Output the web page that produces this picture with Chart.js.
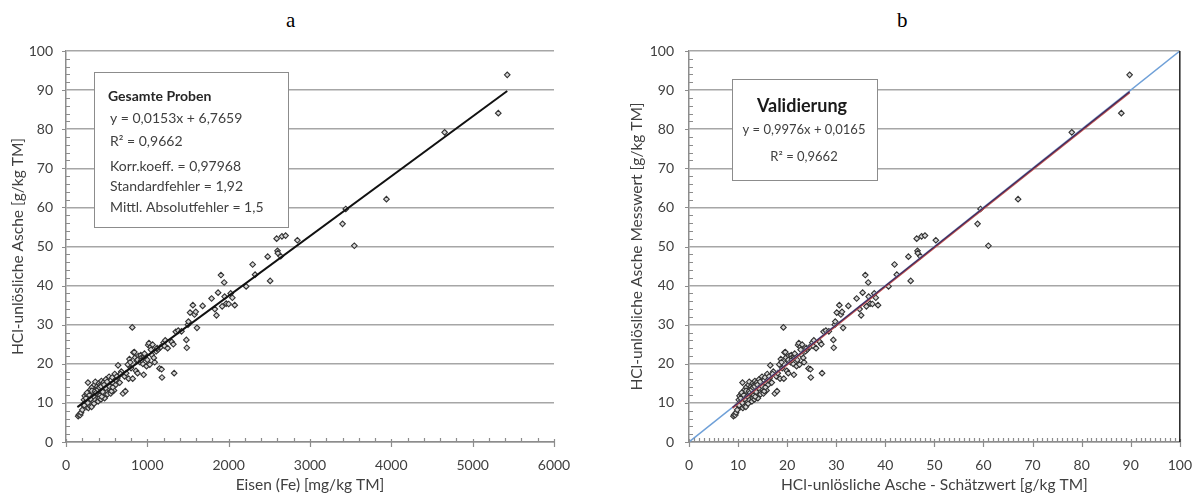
<!DOCTYPE html>
<html>
<head>
<meta charset="utf-8">
<script src="https://cdn.jsdelivr.net/npm/chart.js@4"></script>
<style>
  body { margin: 0; background: #fff; width: 1199px; height: 498px; overflow: hidden; position: relative; }
  .panel { position: absolute; top: 0; height: 498px; }
  .lbl { position: absolute; top: 8px; font-family: "Liberation Serif", serif; font-size: 21px; color: #000; }
</style>
</head>
<body>
<div class="lbl" style="left:286px">a</div>
<div class="lbl" style="left:897px">b</div>
<div class="panel" style="left:0;width:600px"><canvas id="chartA" width="600" height="498"></canvas></div>
<div class="panel" style="left:600px;width:599px"><canvas id="chartB" width="599" height="498"></canvas></div>
<script>
const feValues = [
  150, 160, 175, 185, 200, 210, 220, 230, 240, 250, 255, 265, 270, 275, 280, 285, 290, 295, 300, 305,
  310, 315, 320, 325, 330, 335, 340, 345, 350, 355, 360, 365, 370, 375, 380, 385, 390, 395, 400, 405,
  410, 415, 420, 425, 430, 435, 440, 445, 450, 455, 460, 465, 470, 475, 480, 485, 490, 495, 500, 510,
  520, 530, 540, 550, 560, 570, 580, 590, 600, 610, 620, 630, 640, 650, 660, 680, 700, 720, 730, 740,
  760, 770, 780, 790, 800, 815, 820, 830, 840, 850, 860, 870, 880, 890, 900, 910, 920, 930, 945, 955,
  960, 975, 990, 1000, 1010, 1020, 1030, 1040, 1055, 1065, 1080, 1090, 1110, 1130, 1150, 1160, 1175, 1180, 1200, 1210,
  1220, 1250, 1300, 1320, 1330, 1350, 1380, 1420, 1480, 1485, 1500, 1505, 1525, 1560, 1580, 1595, 1610, 1680, 1790, 1830,
  1850, 1870, 1905, 1920, 1945, 1950, 1970, 2000, 2025, 2045, 2075, 2215, 2295, 2325, 2480, 2510, 2590, 2600, 2605, 2640,
  2655, 2700, 2845, 3400, 3440, 3545, 3940, 4655, 5315, 5425,
  260, 345, 380, 420, 470, 520, 560, 610, 440, 330,
  225, 245, 268, 288, 302, 318, 338, 358, 372, 392, 412, 432, 452, 468, 488, 505, 535, 575, 625, 670,
  880, 925, 965, 1045, 1120
];
const ashValues = [
  6.6, 7.0, 6.9, 7.5, 8.2, 9.5, 10.8, 11.8, 10.2, 9.0, 12.2, 11.0, 15.2, 8.7, 10.5, 12.8, 9.3, 11.6, 13.4, 10.0,
  12.0, 9.0, 14.0, 11.2, 10.6, 13.0, 12.4, 9.8, 14.6, 11.8, 15.4, 12.9, 10.9, 13.6, 11.5, 14.2, 12.2, 10.4, 13.8, 15.0,
  11.2, 12.7, 14.6, 13.2, 10.9, 15.6, 12.0, 13.9, 14.8, 11.7, 12.9, 15.3, 13.4, 11.2, 14.1, 12.4, 16.0, 13.0, 14.5, 12.2,
  15.1, 16.7, 13.6, 12.4, 14.8, 16.5, 15.0, 13.2, 17.4, 14.6, 15.8, 16.3, 19.6, 17.0, 15.2, 18.0, 12.4, 16.8, 13.0, 17.6,
  19.8, 16.2, 21.2, 20.4, 18.9, 29.3, 16.2, 22.9, 23.0, 21.6, 18.2, 20.8, 17.6, 22.0, 21.3, 20.4, 22.2, 21.6, 20.0, 17.2,
  21.9, 22.1, 19.4, 21.0, 24.8, 25.3, 19.8, 24.3, 22.3, 24.9, 21.5, 20.4, 23.2, 23.6, 18.8, 24.2, 18.6, 16.5, 25.4, 24.6,
  26.0, 24.0, 25.6, 25.0, 17.6, 28.2, 28.5, 28.3, 26.1, 24.1, 30.0, 30.8, 33.1, 35.0, 32.6, 33.3, 29.2, 34.8, 36.7, 34.0,
  32.4, 38.2, 42.7, 34.7, 40.8, 37.2, 35.4, 35.3, 38.0, 36.9, 35.0, 39.8, 45.4, 42.8, 47.4, 41.2, 52.0, 48.9, 48.3, 47.5,
  52.6, 52.8, 51.6, 55.8, 59.6, 50.2, 62.1, 79.2, 84.1, 93.9,
  12.6, 11.0, 13.2, 12.0, 14.0, 13.8, 13.0, 15.9, 11.6, 12.5,
  9.4, 11.2, 10.0, 12.0, 11.0, 13.1, 11.7, 13.0, 12.6, 13.4, 13.9, 14.2, 12.8, 14.6, 13.8, 15.4, 14.2, 14.0, 16.8, 17.4,
  21.0, 20.9, 22.6, 23.6, 24.0
];

// regression shown in panel a, used for the estimate in panel b
const slopeA = 0.0153;
const interceptA = 6.7659;
// regression shown in panel b
const slopeB = 0.9976;
const interceptB = 0.0165;

const boxA = ["Gesamte Proben", "y = 0,0153x + 6,7659", "R² = 0,9662", "Korr.koeff. = 0,97968", "Standardfehler = 1,92", "Mittl. Absolutfehler = 1,5"];
const boxB = ["Validierung", "y = 0,9976x + 0,0165", "R² = 0,9662"];

const FONT = "Lato, 'Open Sans', sans-serif";
const TXT = "#404040";
const GRID = "#a6a6a6";

const pointsA = feValues.map((fe, i) => ({ x: fe, y: ashValues[i] }));
const estValues = feValues.map((fe) => slopeA * fe + interceptA);
const pointsB = estValues.map((est, i) => ({ x: est, y: ashValues[i] }));

const feMin = Math.min(...feValues) - 10;
const feMax = Math.max(...feValues);
const estMin = Math.min(...estValues) - 0.2;
const estMax = Math.max(...estValues);

const scatterStyle = {
  type: "scatter",
  pointStyle: "rectRot",
  pointRadius: 2.8,
  pointBorderWidth: 1.1,
  pointBorderColor: "#333",
  pointBackgroundColor: "#d6d6d6"
};

// minor/major tick marks along both axes
function tickPlugin(xMinor, xMajor, xMax, yMinor) {
  return {
    id: "ticks",
    afterDatasetsDraw(chart) {
      const ctx = chart.ctx;
      const xs = chart.scales.x, ys = chart.scales.y;
      const area = chart.chartArea;
      ctx.save();
      ctx.strokeStyle = "#8c8c8c";
      ctx.lineWidth = 1.2;
      ctx.beginPath();
      for (let v = 0; v <= 100 + 1e-9; v += yMinor) {
        const py = Math.round(ys.getPixelForValue(v)) + 0.5;
        if (Math.abs(v % 10) < 1e-6) {
          ctx.moveTo(area.left - 4, py); ctx.lineTo(area.left, py);
        } else {
          ctx.moveTo(area.left, py); ctx.lineTo(area.left + 4, py);
        }
      }
      for (let v = 0; v <= xMax + 1e-9; v += xMinor) {
        const px = Math.round(xs.getPixelForValue(v)) + 0.5;
        if (Math.abs(v % xMajor) < 1e-6) {
          ctx.moveTo(px, area.bottom - 3); ctx.lineTo(px, area.bottom + 5);
        } else {
          ctx.moveTo(px, area.bottom); ctx.lineTo(px, area.bottom - 4);
        }
      }
      ctx.stroke();
      ctx.restore();
    }
  };
}

function boxPlugin(lines, draw) {
  return { id: "box", afterDraw(chart) { draw(chart.ctx, lines); } };
}

function scaleOpts(min, max, step, title, width, titlePad, tickPad) {
  return {
    x: {
      type: "linear", min: min, max: max,
      ticks: { stepSize: step, color: TXT, font: { family: FONT, size: 14 }, padding: 7, callback: (v) => String(v) },
      grid: { display: false },
      border: { display: true, color: "#8c8c8c", width: 1.5 },
      title: { display: true, text: title[0], color: TXT, font: { family: FONT, size: 15.5 }, padding: { top: 0, bottom: 4 } },
      afterFit: (s) => { s.height = 56; }
    },
    y: {
      type: "linear", min: 0, max: 100,
      ticks: { stepSize: 10, color: TXT, font: { family: FONT, size: 14 }, padding: tickPad, callback: (v) => String(v) },
      grid: { color: GRID, lineWidth: 1.6, drawTicks: false },
      border: { display: true, color: "#8c8c8c", width: 1.5 },
      title: { display: true, text: title[1], color: TXT, font: { family: FONT, size: 15.5 }, padding: { top: titlePad, bottom: 0 } },
      afterFit: (s) => { s.width = width; }
    }
  };
}

new Chart(document.getElementById("chartA"), {
  type: "scatter",
  data: {
    datasets: [
      {
        type: "line",
        data: [{ x: feMin, y: slopeA * feMin + interceptA }, { x: feMax, y: slopeA * feMax + interceptA }],
        borderColor: "#111", borderWidth: 2, pointRadius: 0, fill: false
      },
      Object.assign({ data: pointsA }, scatterStyle)
    ]
  },
  options: {
    responsive: false, animation: false,
    layout: { padding: { top: 51, right: 46, left: 0, bottom: 0 } },
    plugins: { legend: { display: false }, tooltip: { enabled: false } },
    scales: scaleOpts(0, 6000, 1000, ["Eisen (Fe) [mg/kg TM]", "HCl-unlösliche Asche [g/kg TM]"], 66, 9, 13)
  },
  plugins: [
    tickPlugin(200, 1000, 6000, 2),
    boxPlugin(boxA, (ctx, lines) => {
      ctx.save();
      ctx.fillStyle = "#fff";
      ctx.strokeStyle = "#8c8c8c";
      ctx.lineWidth = 1;
      ctx.fillRect(94, 72, 194, 155);
      ctx.strokeRect(94.5, 72.5, 194, 155);
      ctx.textBaseline = "middle";
      ctx.fillStyle = "#262626";
      ctx.font = "bold 14px " + FONT;
      ctx.fillText(lines[0], 108, 96);
      ctx.fillStyle = TXT;
      ctx.font = "14px " + FONT;
      const ys = [118, 141, 166, 186, 207];
      for (let i = 1; i < lines.length; i++) ctx.fillText(lines[i], 110, ys[i - 1]);
      ctx.restore();
    })
  ]
});

new Chart(document.getElementById("chartB"), {
  type: "scatter",
  data: {
    datasets: [
      {
        type: "line",
        data: [{ x: estMin, y: slopeB * estMin + interceptB }, { x: estMax, y: slopeB * estMax + interceptB }],
        borderColor: "#3b2a5e", borderWidth: 1.2, pointRadius: 0, fill: false
      },
      {
        type: "line",
        data: [{ x: estMin, y: slopeB * estMin + interceptB - 0.15 }, { x: estMax, y: slopeB * estMax + interceptB - 0.15 }],
        borderColor: "#c0504d", borderWidth: 2, pointRadius: 0, fill: false
      },
      {
        type: "line",
        data: [{ x: 0, y: 0 }, { x: 100, y: 100 }],
        borderColor: "#6fa0d8", borderWidth: 1.5, pointRadius: 0, fill: false
      },
      Object.assign({ data: pointsB }, scatterStyle)
    ]
  },
  options: {
    responsive: false, animation: false,
    layout: { padding: { top: 51, right: 17, left: 0, bottom: 0 } },
    plugins: { legend: { display: false }, tooltip: { enabled: false } },
    scales: scaleOpts(0, 100, 10, ["HCl-unlösliche Asche - Schätzwert [g/kg TM]", "HCl-unlösliche Asche Messwert [g/kg TM]"], 89, 28, 15)
  },
  plugins: [
    tickPlugin(1, 10, 100, 2),
    boxPlugin(boxB, (ctx, lines) => {
      ctx.save();
      ctx.fillStyle = "#fff";
      ctx.strokeStyle = "#8c8c8c";
      ctx.lineWidth = 1;
      ctx.fillRect(132, 79, 145, 101);
      ctx.strokeRect(132.5, 79.5, 145, 101);
      ctx.textAlign = "center";
      ctx.textBaseline = "middle";
      ctx.fillStyle = "#1a1a1a";
      ctx.font = "bold 18px " + FONT;
      ctx.fillText(lines[0], 202, 106);
      ctx.fillStyle = TXT;
      ctx.font = "13px " + FONT;
      ctx.fillText(lines[1], 204, 130);
      ctx.fillText(lines[2], 204, 157);
      ctx.restore();
    }),
    {
      id: "rightEdge",
      afterDatasetsDraw(chart) {
        const a = chart.chartArea, ctx = chart.ctx;
        ctx.save();
        ctx.strokeStyle = "#222";
        ctx.lineWidth = 1.5;
        ctx.beginPath();
        ctx.moveTo(a.right, a.top);
        ctx.lineTo(a.right, a.bottom);
        ctx.stroke();
        ctx.restore();
      }
    }
  ]
});
</script>
</body>
</html>
